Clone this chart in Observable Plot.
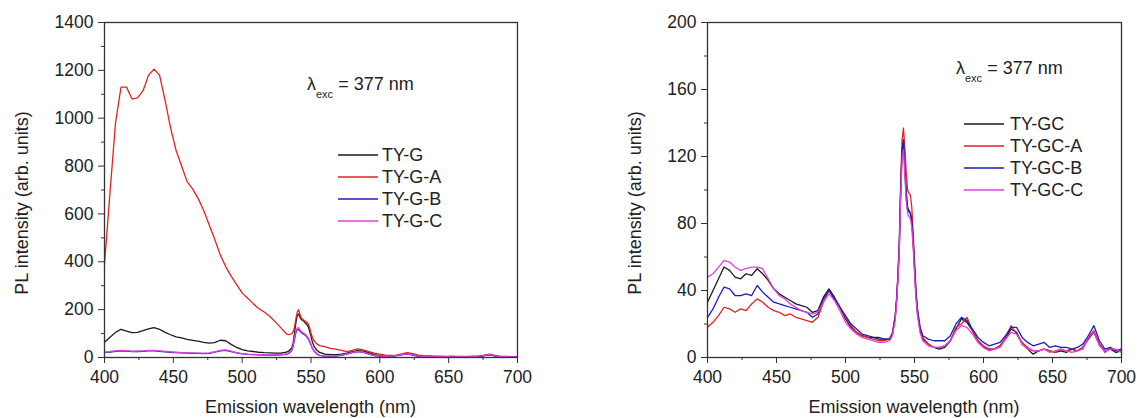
<!DOCTYPE html>
<html><head><meta charset="utf-8">
<script src="https://cdn.jsdelivr.net/npm/d3@7"></script>
<script src="https://cdn.jsdelivr.net/npm/@observablehq/plot@0.6"></script>
<style>
body{margin:0;background:#fff}
#wrap{display:flex;width:1140px;height:418px;overflow:hidden}
</style>
</head><body><div id="wrap"></div>
<script>
// ---------- data ----------
const wavelength = [
  400,404,408,412,416,420,424,428,432,436,
  440,444,448,452,456,460,464,468,472,476,
  480,484,488,492,496,500,504,508,512,516,
  520,524,528,532,534,536,537,538,539,540,
  541,542,543,544,545,546,547,548,549,550,
  551,552,554,556,560,564,568,572,576,580,
  584,588,592,596,600,604,608,612,616,620,
  624,628,632,636,640,644,648,652,656,660,
  664,668,672,676,680,684,688,692,696,700
];
const seriesLeft = ["TY-G", "TY-G-A", "TY-G-B", "TY-G-C"];
const seriesRight = ["TY-GC", "TY-GC-A", "TY-GC-B", "TY-GC-C"];
const seriesColors = ["#1a1a1a", "#e3221f", "#1c1cc4", "#e040e0"];

const tyG = [
  64,85,105,118,110,104,105,112,120,125,
  118,105,95,86,82,76,72,68,63,60,
  62,72,70,55,42,33,28,25,22,20,
  19,18,18,22,28,40,60,100,145,175,
  182,168,158,155,150,143,138,128,110,88,
  65,50,32,22,14,12,12,14,18,25,
  29,27,20,12,8,6,6,8,12,15,
  12,7,5,5,4,4,4,4,4,4,
  4,4,5,8,12,6,4,4,3,3
];
const tyGA = [
  390,690,980,1130,1130,1080,1085,1115,1180,1205,
  1180,1075,960,865,800,735,705,665,615,555,
  495,430,380,340,305,270,248,225,205,190,
  172,150,125,100,95,100,108,125,160,190,
  200,180,165,158,155,150,148,140,125,100,
  85,72,58,50,45,38,35,30,25,30,
  36,32,25,18,14,10,9,10,15,20,
  16,10,8,7,6,6,5,6,5,5,
  5,6,6,10,14,8,5,5,4,4
];
const tyGB = [
  20,23,26,28,27,25,25,26,28,28,
  26,24,22,20,19,18,17,17,16,17,
  22,28,30,25,19,15,13,12,11,10,
  10,10,11,13,18,28,46,75,104,116,
  118,110,104,100,96,92,86,78,66,52,
  38,28,16,9,6,5,6,9,14,20,
  25,21,14,8,5,4,5,8,12,14,
  10,5,4,3,3,3,3,3,3,3,
  3,4,5,8,12,6,3,3,3,2
];
const tyGC_ = [
  22,25,28,30,29,26,27,28,30,30,
  28,26,24,22,20,19,19,18,18,19,
  24,30,32,27,20,16,14,13,12,11,
  11,11,12,14,20,30,50,80,110,122,
  125,115,108,104,100,96,90,82,70,55,
  40,30,18,10,7,6,7,10,15,21,
  26,22,15,9,6,5,6,9,13,15,
  11,6,4,4,4,4,4,4,4,4,
  4,5,6,9,13,7,4,4,3,3
];

const tyGC = [
  33,40,47,54,52,48,47,50,49,53,
  50,46,41,38,36,34,32,31,30,27,
  28,36,41,36,30,23,18,15,13,12,
  12,11,11,11,14,24,34,48,66,100,
  124,130,115,100,90,87,86,82,70,54,
  38,28,16,11,8,6,5,6,10,17,
  23,21,16,10,6,5,5,7,11,17,
  15,8,5,2,4,5,4,3,4,3,
  5,4,6,11,15,8,4,5,3,4
];
const tyGCA = [
  18,21,25,30,29,27,29,28,32,35,
  33,30,28,27,25,26,24,23,22,21,
  24,33,40,35,30,24,19,15,13,12,
  11,10,10,11,15,25,35,50,70,105,
  130,137,125,110,100,98,97,90,75,58,
  42,30,18,12,8,6,6,7,10,18,
  20,24,16,10,7,5,5,7,12,19,
  14,9,6,4,4,5,4,3,5,4,
  5,4,6,12,16,8,3,6,4,5
];
const tyGCB = [
  24,29,36,42,41,37,37,38,37,43,
  39,36,33,32,31,30,29,28,27,24,
  26,35,40,35,30,25,20,17,14,13,
  12,12,11,11,14,24,34,48,67,100,
  124,130,112,95,88,88,86,82,70,54,
  39,29,18,13,11,10,10,10,13,20,
  24,22,17,12,9,7,8,9,13,18,
  18,12,9,7,8,9,6,7,6,6,
  5,6,8,13,19,10,5,6,4,5
];
const tyGCC = [
  48,50,54,58,57,54,52,53,54,54,
  53,47,41,37,35,32,30,28,27,26,
  27,33,38,34,28,21,17,14,12,11,
  10,9,9,10,13,22,32,46,64,96,
  118,124,110,94,86,84,83,78,66,50,
  36,26,15,10,7,6,6,7,10,16,
  19,18,14,9,6,4,5,6,11,15,
  14,8,5,4,4,5,3,4,5,4,
  3,4,5,12,15,7,4,5,5,3
];

const xMajor = [400, 450, 500, 550, 600, 650, 700];
const xMinor = [425, 475, 525, 575, 625, 675];
const yMajorLeft = [0, 200, 400, 600, 800, 1000, 1200, 1400];
const yMinorLeft = [100, 300, 500, 700, 900, 1100, 1300];
const yMajorRight = [0, 40, 80, 120, 160, 200];
const yMinorRight = [20, 60, 100, 140, 180];

const xTitle = "Emission wavelength (nm)";
const yTitle = "PL intensity (arb. units)";

// ---------- drawing ----------
const FONT = "'Liberation Sans', Arial, Helvetica, sans-serif";

function toRows(names, arrays) {
  const rows = [];
  names.forEach((n, i) => arrays[i].forEach((v, j) => rows.push({wl: wavelength[j], v, s: n})));
  return rows;
}

function panel(cfg) {
  const W = 570, H = 418;
  const rows = toRows(cfg.names, cfg.values);
  const plot = Plot.plot({
    width: W, height: H,
    marginLeft: cfg.ml, marginRight: cfg.mr, marginTop: 22, marginBottom: 61,
    style: {fontFamily: FONT, fontSize: "17.5px", color: "#222", background: "#fff"},
    x: {domain: [400, 700]},
    y: {domain: cfg.yDomain},
    color: {domain: cfg.names, range: seriesColors},
    marks: [
      Plot.axisX({ticks: xMajor, tickSize: 6, tickPadding: 7, tickFormat: d => String(d), label: null, fontSize: 17.5, stroke: "#333"}),
      Plot.axisX({ticks: xMinor, tickSize: 3, tickFormat: () => "", label: null, stroke: "#333"}),
      Plot.axisY({ticks: cfg.yMajor, tickSize: 6, tickPadding: 5, tickFormat: d => String(d), label: null, fontSize: 17.5, stroke: "#333"}),
      Plot.axisY({ticks: cfg.yMinor, tickSize: 3, tickFormat: () => "", label: null, stroke: "#333"}),
      Plot.line(rows, {x: "wl", y: "v", z: "s", stroke: "s", strokeWidth: 1.3}),
      Plot.frame({stroke: "#333", strokeWidth: 1.3})
    ]
  });
  const svg = d3.select(plot);
  const g = svg.append("g").attr("font-family", FONT).attr("fill", "#222");
  // axis titles
  g.append("text")
    .attr("x", (cfg.ml + W - cfg.mr) / 2).attr("y", 413)
    .attr("text-anchor", "middle").attr("font-size", 18).text(xTitle);
  g.append("text")
    .attr("transform", `translate(${cfg.yTitleX},203) rotate(-90)`)
    .attr("text-anchor", "middle").attr("dy", "0.35em").attr("font-size", 18).text(yTitle);
  // legend
  const L = cfg.legend;
  cfg.names.forEach((n, i) => {
    const y = L.y0 + i * L.dy;
    g.append("line").attr("x1", L.x1).attr("x2", L.x2).attr("y1", y).attr("y2", y)
      .attr("stroke", seriesColors[i]).attr("stroke-width", 1.5);
    g.append("text").attr("x", L.tx).attr("y", y).attr("dy", "0.35em")
      .attr("text-anchor", "start").attr("font-size", 18).text(n);
  });
  // annotation
  const A = cfg.annot;
  const t = g.append("text").attr("x", A.x).attr("y", A.y)
    .attr("text-anchor", "start").attr("font-size", 18);
  t.append("tspan").text("λ");
  t.append("tspan").attr("dy", 8).attr("font-size", 11).text("exc");
  t.append("tspan").attr("dy", -8).text(" = 377 nm");
  return plot;
}

const wrap = document.getElementById("wrap");
wrap.append(panel({
  names: seriesLeft, values: [tyG, tyGA, tyGB, tyGC_],
  yDomain: [0, 1400], yMajor: yMajorLeft, yMinor: yMinorLeft,
  ml: 104, mr: 53, yTitleX: 21.5,
  legend: {x1: 338, x2: 378, tx: 382, y0: 155, dy: 22},
  annot: {x: 307, y: 90}
}));
wrap.append(panel({
  names: seriesRight, values: [tyGC, tyGCA, tyGCB, tyGCC],
  yDomain: [0, 200], yMajor: yMajorRight, yMinor: yMinorRight,
  ml: 137, mr: 19, yTitleX: 65,
  legend: {x1: 394, x2: 434, tx: 440, y0: 124, dy: 22},
  annot: {x: 386, y: 74}
}));
</script></body></html>
